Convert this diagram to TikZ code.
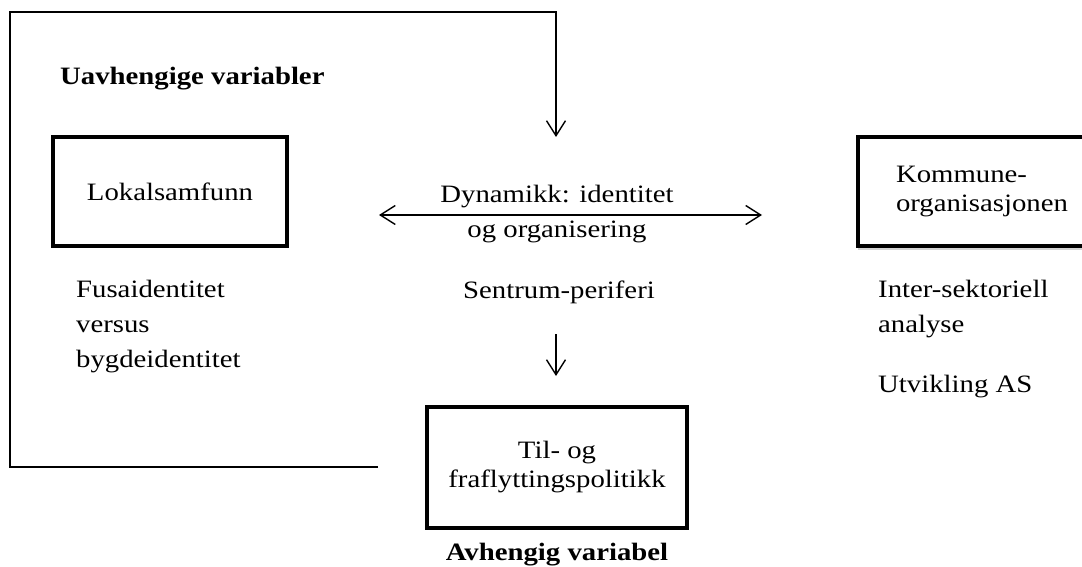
\documentclass[tikz,border=0pt]{standalone}
\usepackage{fontspec}
\setmainfont{Liberation Serif}[FakeStretch=1.15]
\usetikzlibrary{arrows.meta,shadows}
\begin{document}
\begin{tikzpicture}[x=1pt,y=-1pt,
  txt/.style={inner sep=0pt, font=\fontsize{25}{35}\selectfont, align=left},
  txtc/.style={inner sep=0pt, font=\fontsize{25}{35}\selectfont, align=center},
  hdr/.style={inner sep=0pt, font=\fontsize{25}{35}\selectfont\bfseries},
  vbox/.style={draw, line width=3.8pt, fill=white, inner sep=0pt, font=\fontsize{25}{29}\selectfont},
  conn/.style={line width=1.4pt, -{Straight Barb[length=15pt,width=19pt,line width=1.4pt]}},
  conn2/.style={line width=1.4pt, {Straight Barb[length=15pt,width=19pt,line width=1.4pt]}-{Straight Barb[length=15pt,width=19pt,line width=1.4pt]}}]
\useasboundingbox (0,0) rectangle (1082,567);

% nodes
\node[hdr, anchor=base west] (uav) at (60,85) {Uavhengige variabler};
\node[vbox, minimum width=234pt, minimum height=109pt, align=center] (lok) at (170,191.5) {Lokalsamfunn};
\node[txt, anchor=west] (fusa) at (76,326.5) {Fusaidentitet\\versus\\bygdeidentitet};
\node[txtc] (dyn) at (557,214) {Dynamikk: identitet\\og organisering};
\node[txtc, anchor=base] (sent) at (559,298) {Sentrum-periferi};
\node[vbox, minimum width=266pt, minimum height=109pt, text width=190pt, align=left,
      drop shadow={shadow xshift=0pt, shadow yshift=-4pt, opacity=0.35, fill=gray}] (kom) at (991,191.5) {Kommune-\\organisasjonen};
\node[txt, anchor=west] (inter) at (878,309) {Inter-sektoriell\\analyse};
\node[txt, anchor=base west] (utv) at (878,392) {Utvikling AS};
\node[vbox, minimum width=260pt, minimum height=121pt, align=center] (til) at (557,467.5) {Til- og\\fraflyttingspolitikk};
\node[hdr, anchor=base] (avh) at (557,560) {Avhengig variabel};

% coordinates for free ends
\coordinate (fstart) at (378,467);
\coordinate (fbl) at (10,467);
\coordinate (ftl) at (10,12);
\coordinate (ftr) at (556,12);
\coordinate (dyntop) at (556,137);
\coordinate (dl) at (379,215);
\coordinate (dr) at (762,215);
\coordinate (ds) at (556,334);
\coordinate (de) at (556,376);

% connectors
\draw[conn] (fstart) -- (fbl) -- (ftl) -- (ftr) -- (dyntop);
\draw[conn2] (dl) -- (dr);
\draw[conn] (ds) -- (de);
\end{tikzpicture}
\end{document}
